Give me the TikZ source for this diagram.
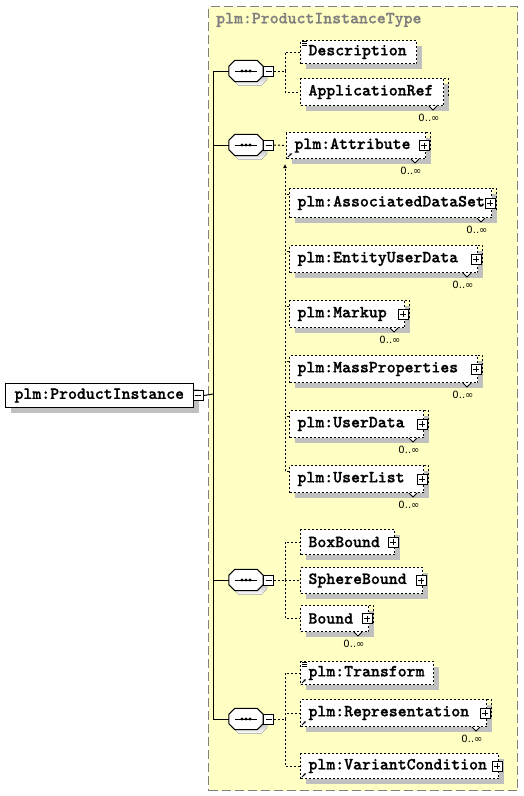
\documentclass[tikz,border=0pt]{standalone}
\usepackage{fontspec}
\newfontfamily\occfont{DejaVu Sans}
\newfontfamily\elemfont{lmmonolt10-bold.otf}[FakeBold=0.9]
\usetikzlibrary{shadows,arrows.meta,positioning}
\definecolor{typebg}{RGB}{255,255,195}
\definecolor{shade}{RGB}{192,192,192}
\definecolor{titlegray}{RGB}{128,128,128}

\begin{document}
\begin{tikzpicture}[x=1pt, y=-1pt,
    font=\elemfont\fontsize{17}{19}\selectfont,
    conn/.style={line width=1pt},
    dashline/.style={line width=1pt, dash pattern=on 2pt off 2pt},
    boxshadow/.style={drop shadow={shadow xshift=5pt, shadow yshift=-5pt, fill=shade, opacity=1}},
    elem/.style={draw, fill=white, dashline, boxshadow, anchor=north west, inner xsep=8pt, inner ysep=0pt},
    typebox/.style={draw=titlegray, fill=typebg, line width=1pt, dash pattern=on 9pt off 4pt, anchor=north west, inner sep=0pt},
    typetitle/.style={text=titlegray, inner sep=0pt},
    seqbox/.style={minimum width=34pt, minimum height=21pt, inner sep=0pt},
    octpath/.style={insert path={([xshift=6pt]#1.north west) -- ([xshift=-6pt]#1.north east) -- ([yshift=-6pt]#1.north east)
      -- ([yshift=6pt]#1.south east) -- ([xshift=-6pt]#1.south east) -- ([xshift=6pt]#1.south west)
      -- ([yshift=6pt]#1.south west) -- ([yshift=-6pt]#1.north west) -- cycle}},
    expand/.style={draw, fill=white, solid, line width=0.8pt, minimum size=10pt, inner sep=0pt,
      path picture={\draw[black, line width=0.8pt] ([xshift=2pt]path picture bounding box.west) -- ([xshift=-2pt]path picture bounding box.east)
        ([yshift=-2pt]path picture bounding box.north) -- ([yshift=2pt]path picture bounding box.south);}},
    collapse/.style={draw, fill=white, solid, line width=0.8pt, minimum size=10pt, inner sep=0pt,
      path picture={\draw[black, line width=0.8pt] ([xshift=2pt]path picture bounding box.west) -- ([xshift=-2pt]path picture bounding box.east);}},
    occ/.style={font=\occfont\fontsize{10}{12}\selectfont, inner sep=0pt},
    refarrow/.style={line width=0.8pt, -{Latex[length=2.5pt,width=2.5pt]}},
  ]
  \useasboundingbox (0,0) rectangle (524,796);

  % type container
  \node[typebox, minimum width=309pt, minimum height=784pt] (ptype) at (208,6) {};
  \node[typetitle, anchor=west] (ptitle) at (216,20) {plm:ProductInstanceType};

  % root element
  \node[elem, solid, minimum height=24pt, inner xsep=9pt] (pinst) at (5,383) {\makebox[170pt][l]{plm:ProductInstance}};
  \node[collapse, right=-1pt of pinst] (pinst-m) {};

  % sequences
  \node[seqbox] (seq1) at (246,71) {};
  \node[seqbox] (seq2) at (246,145) {};
  \node[seqbox] (seq3) at (246,580) {};
  \node[seqbox] (seq4) at (246,719) {};
  \foreach \s in {seq1,seq2,seq3,seq4} {
    \fill[shade, transform canvas={shift={(4pt,-4pt)}}, octpath=\s];
    \draw[line width=1pt, fill=white, octpath=\s];
    \draw[line width=1pt] ([xshift=-11pt]\s.center) -- ([xshift=11pt]\s.center);
    \foreach \d in {-4pt,0pt,4pt} \fill[black] ([xshift=\d]\s.center) circle (1.7pt);
  }
  \node[collapse, right=0pt of seq1] (seq1-m) {};
  \node[collapse, right=0pt of seq2] (seq2-m) {};
  \node[collapse, right=0pt of seq3] (seq3-m) {};
  \node[collapse, right=0pt of seq4] (seq4-m) {};

  % first sequence
  \node[elem, minimum height=23pt] (desc) at (300,40) {\makebox[100pt][l]{Description}};
  \node[elem, minimum height=27pt] (appref) at (300,78) {\makebox[127pt][l]{ApplicationRef}};

  % second sequence
  \node[elem, minimum height=26pt] (attr) at (286,132) {\makebox[123pt][l]{plm:Attribute}};
  \node[elem, minimum height=29pt] (assoc) at (289,188) {\makebox[186pt][l]{plm:AssociatedDataSet}};
  \node[elem, minimum height=27pt] (entity) at (289,245) {\makebox[172pt][l]{plm:EntityUserData}};
  \node[elem, minimum height=27pt] (markup) at (289,300) {\makebox[99pt][l]{plm:Markup}};
  \node[elem, minimum height=27pt] (mass) at (289,355) {\makebox[172pt][l]{plm:MassProperties}};
  \node[elem, minimum height=27pt] (udata) at (289,410) {\makebox[118pt][l]{plm:UserData}};
  \node[elem, minimum height=27pt] (ulist) at (289,465) {\makebox[118pt][l]{plm:UserList}};

  % third sequence
  \node[elem, minimum height=25pt] (boxb) at (300,529) {\makebox[78pt][l]{BoxBound}};
  \node[elem, minimum height=26pt] (sphere) at (300,567) {\makebox[106pt][l]{SphereBound}};
  \node[elem, minimum height=26pt] (bound) at (300,605) {\makebox[52pt][l]{Bound}};

  % fourth sequence
  \node[elem, minimum height=23pt] (transf) at (300,661) {\makebox[117pt][l]{plm:Transform}};
  \node[elem, minimum height=27pt] (repr) at (300,699) {\makebox[170pt][l]{plm:Representation}};
  \node[elem, minimum height=25pt] (varc) at (300,753) {\makebox[182pt][l]{plm:VariantCondition}};

  % repeated elements
  \foreach \n in {appref,attr,assoc,entity,markup,mass,udata,ulist,bound,repr} {
    \draw[dashline] (\n.north east) -- ([xshift=4pt]\n.north east) -- ([xshift=4pt,yshift=8pt]\n.south east);
    \draw[line width=0.8pt, fill=white] ([xshift=-15pt]\n.south east) -- ([xshift=-11pt,yshift=-4pt]\n.south east) -- ([xshift=-7pt]\n.south east);
    \node[occ] (\n-occ) at ([xshift=-15pt,yshift=-12pt]\n.south east) {0..∞};
  }

  % expand buttons
  \foreach \n in {attr,assoc,entity,markup,mass,udata,ulist,boxb,sphere,bound,repr,varc}
    \node[expand] (\n-x) at ([xshift=-2pt]\n.east) {};

  % icons
  \draw[line width=0.8pt] ([xshift=2pt,yshift=-1.5pt]desc.north west) -- ++(5,0)
    ([xshift=2pt,yshift=-3.5pt]desc.north west) -- ++(5,0)
    ([xshift=2pt,yshift=-5.5pt]desc.north west) -- ++(5,0);
  \draw[line width=0.8pt] ([xshift=2pt,yshift=-1.5pt]transf.north west) -- ++(5,0)
    ([xshift=2pt,yshift=-3.5pt]transf.north west) -- ++(5,0)
    ([xshift=2pt,yshift=-5.5pt]transf.north west) -- ++(5,0);
  \foreach \n in {attr,transf,repr,varc}
    \draw[refarrow] ([xshift=2pt,yshift=2pt]\n.south west) -- ([xshift=6pt,yshift=6pt]\n.south west);

  % main connectors
  \coordinate (spine) at (213,394);
  \draw[conn] (pinst-m.east) -- (spine);
  \draw[conn] (spine |- seq1.west) -- (spine |- seq4.west);
  \foreach \s in {seq1,seq2,seq3,seq4}
    \draw[conn] (spine |- \s.west) -- (\s.west);

  % sequence connectors
  \coordinate (j1) at (285,71);
  \coordinate (j3) at (285,580);
  \coordinate (j4) at (285,719);
  \draw[dashline] (seq1-m.east) -- (j1);
  \draw[dashline] (j1) |- (desc.west);
  \draw[dashline] (j1) |- (appref.west);
  \draw[dashline] (seq2-m.east) -- (attr.west);
  \foreach \n in {assoc,entity,markup,mass,udata,ulist}
    \draw[dashline] ([yshift=-6pt]\n.north west) -- ++(-4,0);
  \draw[dashline, -{Latex[length=4pt,width=4pt]}] ([xshift=-4pt,yshift=-6pt]ulist.north west) -- ([xshift=-1pt,yshift=-5pt]attr.south west);
  \draw[dashline] (seq3-m.east) -- (j3);
  \draw[dashline] (j3) |- (boxb.west);
  \draw[dashline] (j3) |- (sphere.west);
  \draw[dashline] (j3) |- (bound.west);
  \draw[dashline] (seq4-m.east) -- (j4);
  \draw[dashline] (j4) |- (transf.west);
  \draw[dashline] (j4) |- (repr.west);
  \draw[dashline] (j4) |- (varc.west);
\end{tikzpicture}
\end{document}
